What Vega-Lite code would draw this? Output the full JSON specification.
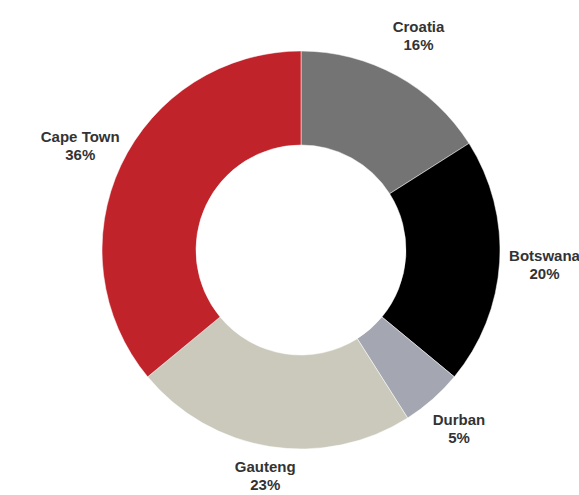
{
  "$schema": "https://vega.github.io/schema/vega-lite/v6.json",
  "width": 602,
  "height": 500,
  "autosize": "none",
  "padding": 0,
  "background": "white",
  "config": {"view": {"stroke": null}},
  "data": {
    "values": [
      {"name": "Croatia", "value": 16, "order": 1, "label": "Croatia\n16%"},
      {"name": "Botswana", "value": 20, "order": 2, "label": "Botswana\n20%"},
      {"name": "Durban", "value": 5, "order": 3, "label": "Durban\n5%"},
      {"name": "Gauteng", "value": 23, "order": 4, "label": "Gauteng\n23%"},
      {"name": "Cape Town", "value": 36, "order": 5, "label": "Cape Town\n36%"}
    ]
  },
  "encoding": {
    "theta": {"field": "value", "type": "quantitative", "stack": true},
    "order": {"field": "order", "type": "quantitative"}
  },
  "layer": [
    {
      "mark": {"type": "arc", "outerRadius": 199, "innerRadius": 105, "stroke": "white", "strokeWidth": 0.5},
      "encoding": {
        "color": {
          "field": "name",
          "type": "nominal",
          "legend": null,
          "scale": {
            "domain": ["Croatia", "Botswana", "Durban", "Gauteng", "Cape Town"],
            "range": ["#737473", "#000000", "#a4a6b1", "#cac9bb", "#c1232a"]
          }
        }
      }
    },
    {
      "mark": {"type": "text", "radius": {"expr": "244 - 16*pow(max(0, -cos(PI*(datum.value_start+datum.value_end)/100)), 4)"}, "dy": -9, "font": "Liberation Sans", "fontSize": 15, "fontWeight": "bold", "fill": "#333333", "lineBreak": "\n", "lineHeight": 18, "align": "center", "baseline": "middle"},
      "encoding": {
        "text": {"field": "label", "type": "nominal"}
      }
    }
  ]
}
